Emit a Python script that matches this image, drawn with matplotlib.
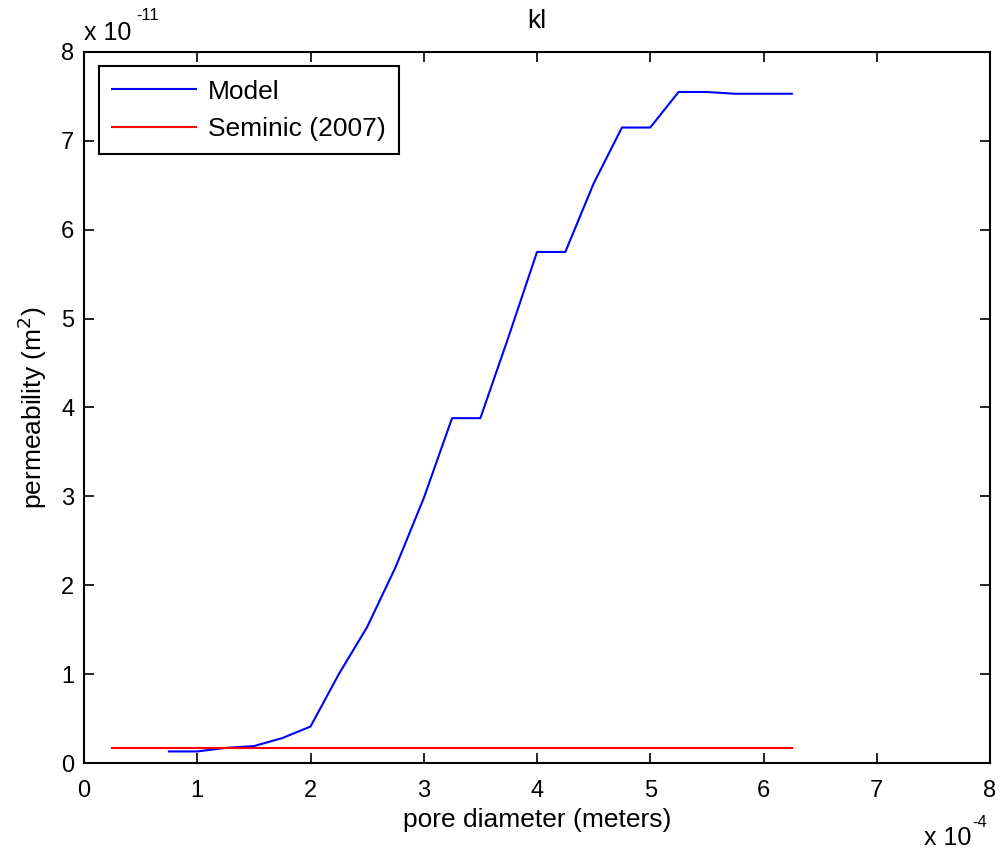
import matplotlib
matplotlib.use("Agg")
import matplotlib.pyplot as plt

plt.rcParams['font.family'] = ['Liberation Sans', 'DejaVu Sans']

# pore diameter in units of 1e-4 m
pore_d = [0.75, 1.0, 1.25, 1.5, 1.75, 2.0, 2.25, 2.5, 2.75, 3.0, 3.25, 3.5,
          3.75, 4.0, 4.25, 4.5, 4.75, 5.0, 5.25, 5.5, 5.75, 6.0, 6.25]
# permeability in units of 1e-11 m^2
model_k = [0.13, 0.13, 0.17, 0.19, 0.28, 0.41, 1.0, 1.53, 2.2, 2.98, 3.88, 3.88,
           4.8, 5.75, 5.75, 6.52, 7.15, 7.15, 7.55, 7.55, 7.53, 7.53, 7.53]
seminic_x = [0.25, 6.25]
seminic_k = [0.165, 0.165]

fs = 19
W, H = 1000, 855
fig = plt.figure(figsize=(10, 8.55), dpi=100)
ax = fig.add_axes([0.084, 0.1076, 0.906, 0.8316])

ax.plot(pore_d, model_k, color='blue', lw=1.5, label='Model')
ax.plot(seminic_x, seminic_k, color='red', lw=1.5, label='Seminic (2007)')

ax.set_xlim(0, 8)
ax.set_ylim(0, 8)
ax.set_xticks(range(9))
ax.set_yticks(range(9))
ax.tick_params(direction='in', top=True, right=True, labelsize=17, length=7, width=1.2)
ax.tick_params(axis='x', pad=12)
ax.tick_params(axis='y', pad=7)
for s in ax.spines.values():
    s.set_linewidth(1.5)

ax.set_title('kl', fontsize=fs, pad=17)
ax.set_xlabel('pore diameter (meters)', fontsize=fs, va='baseline')
ax.xaxis.set_label_coords(0.5, -0.09)
ax.set_ylabel('permeability (m$^2$)', fontsize=fs, va='baseline')
ax.yaxis.set_label_coords(-0.046, 0.5)

# axis multipliers, MATLAB style (placed in figure pixels)
fig.text(84 / W, 1 - 40 / H, 'x 10', fontsize=18, ha='left', va='baseline')
fig.text(136 / W, 1 - 20 / H, '-11', fontsize=12, ha='left', va='baseline')
fig.text(971 / W, 1 - 845 / H, 'x 10', fontsize=18, ha='right', va='baseline')
fig.text(972 / W, 1 - 827 / H, '-4', fontsize=12, ha='left', va='baseline')

leg = ax.legend(loc='upper left', fontsize=fs, fancybox=False, edgecolor='black',
                framealpha=1, handlelength=3.2, handletextpad=0.45,
                labelspacing=0.5, borderpad=0.5, borderaxespad=0.55)
leg.get_frame().set_linewidth(1.5)

fig.savefig('out.png', dpi=100)
